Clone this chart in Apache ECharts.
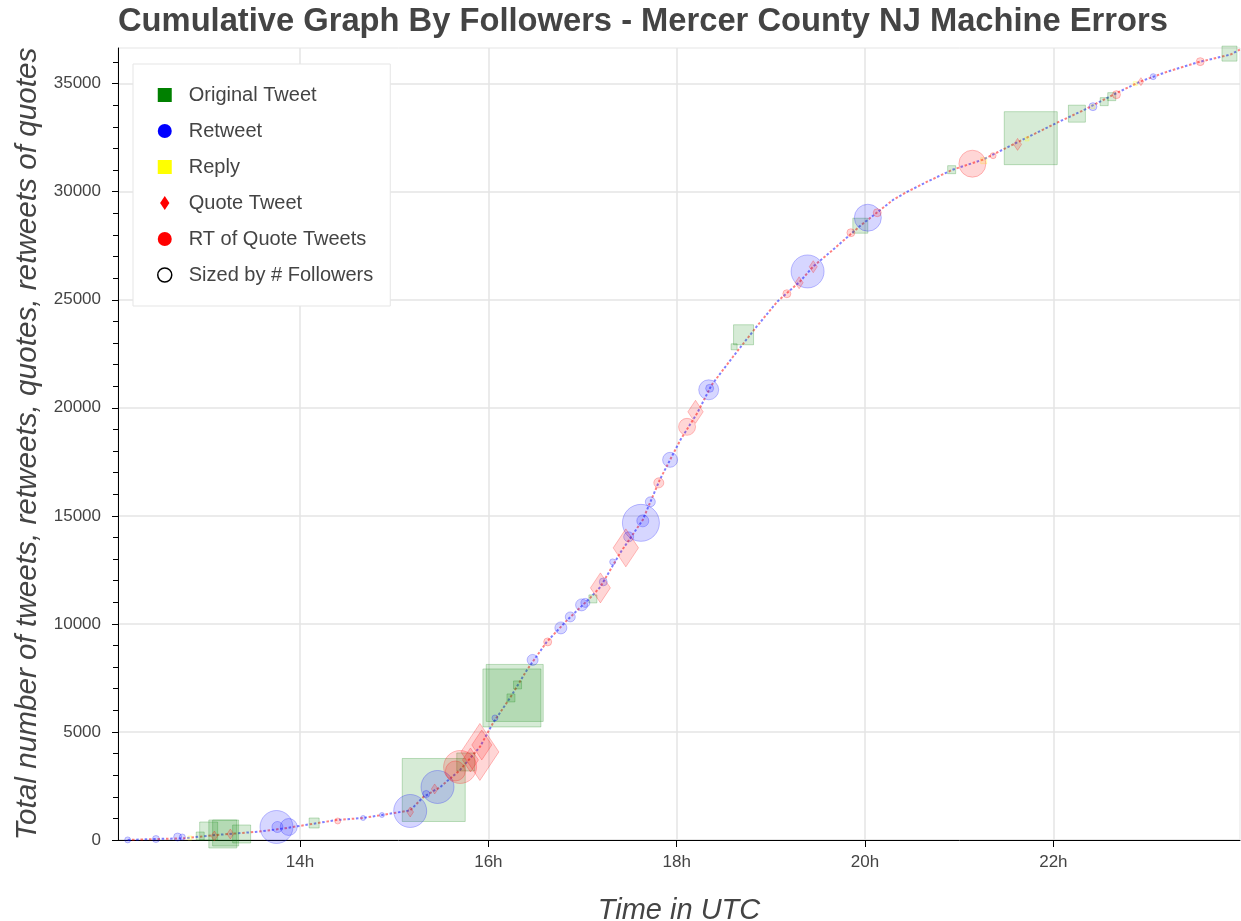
<!DOCTYPE html>
<html>
<head>
<meta charset="utf-8">
<title>Cumulative Graph By Followers</title>
<script src="https://cdn.jsdelivr.net/npm/echarts@6/dist/echarts.min.js"></script>
<style>
  html, body { margin: 0; padding: 0; background: #fff; overflow: hidden; }
  #chart { width: 1241px; height: 921px; }
</style>
</head>
<body>
<div id="chart"></div>
<script>
// ---- data: cumulative curve (hour UTC, running total) ----
var curveHours  = [12.17, 12.47, 12.77, 13.10, 13.55, 13.84, 14.05, 14.39, 14.67, 14.87, 15.17, 15.31, 15.49, 15.70,
                   15.91, 16.05, 16.23, 16.41, 16.62, 16.84, 17.08, 17.19, 17.40, 17.64, 17.82, 18.04, 18.22, 18.37,
                   18.60, 18.85, 19.07, 19.31, 19.45, 19.66, 19.95, 20.30, 20.45, 20.66, 20.93, 21.25, 21.61, 22.04,
                   22.31, 22.68, 22.92, 23.21, 23.56, 23.88, 23.98];
var curveCounts = [5, 46, 79, 230, 384, 542, 690, 926, 1019, 1157, 1370, 1991, 2454, 3241,
                   4306, 5417, 6574, 7870, 9167, 10190, 11200, 11713, 13287, 14815, 16667, 18519, 19769, 21050,
                   22375, 23764, 24921, 25847, 26542, 27315, 28426, 29630, 30000, 30463, 31019, 31481, 32268, 33194,
                   33750, 34583, 35093, 35556, 36019, 36343, 36574];

// ---- data: tweets by type [hour, running total, followers (k)] ----
var originalTweets = [
  [12.94, 185, 24], [13.03, 417, 54], [13.18, 278, 84], [13.21, 324, 78], [13.38, 278, 54],
  [14.15, 787, 30], [15.42, 2315, 189], [15.76, 3611, 54], [16.25, 6574, 174], [16.28, 6806, 171],
  [16.24, 6574, 24], [16.31, 7176, 24], [17.11, 11157, 24], [18.61, 22824, 18], [18.71, 23380, 60],
  [19.95, 28426, 45], [20.92, 31019, 24], [21.76, 32477, 159], [22.25, 33611, 51], [22.54, 34167, 24],
  [22.62, 34398, 24], [23.87, 36389, 45]
];
var retweets = [
  [12.17, 5, 18], [12.47, 46, 21], [12.70, 139, 24], [12.75, 139, 18], [13.75, 602, 99],
  [13.88, 602, 51], [13.76, 602, 33], [14.67, 1019, 15], [14.87, 1157, 15], [15.17, 1343, 99],
  [15.34, 2130, 21], [15.46, 2454, 99], [16.07, 5648, 18], [16.47, 8333, 33], [16.77, 9815, 36],
  [16.87, 10324, 30], [16.99, 10880, 36], [17.03, 10972, 27], [17.22, 11944, 24], [17.32, 12870, 18],
  [17.49, 14028, 30], [17.62, 14676, 111], [17.64, 14769, 36], [17.72, 15648, 30], [17.93, 17593, 45],
  [18.34, 20833, 60], [18.35, 20900, 24], [19.39, 26310, 99], [20.03, 28796, 81], [22.42, 33935, 24],
  [23.06, 35324, 18]
];
var replies = [
  [12.83, 93, 12], [21.26, 31435, 18], [21.72, 32440, 12], [22.42, 33935, 12], [22.87, 35000, 12]
];
var quoteTweets = [
  [13.09, 185, 30], [13.26, 278, 30], [15.17, 1296, 30], [15.43, 2361, 30], [15.81, 3704, 72],
  [15.91, 4074, 171], [15.93, 4398, 90], [17.19, 11667, 90], [17.46, 13519, 114], [18.20, 19815, 69],
  [19.30, 25787, 36], [19.45, 26528, 36], [21.62, 32190, 36], [22.93, 35093, 24]
];
var rtOfQuotes = [
  [14.40, 880, 18], [15.65, 3194, 60], [15.70, 3380, 99], [16.63, 9167, 24], [17.81, 16528, 30],
  [18.11, 19120, 51], [19.17, 25278, 24], [19.85, 28102, 24], [20.13, 29028, 24], [21.14, 31296, 81],
  [21.36, 31667, 18], [22.67, 34491, 24], [23.56, 36019, 24]
];

// ---- tick labels ----
var hourTicks  = [14, 16, 18, 20, 22];
var countTicks = [0, 5000, 10000, 15000, 20000, 25000, 30000, 35000];
var minorCountTicks = [];
for (var t = 0; t <= 36000; t += 1000) minorCountTicks.push(t);

var FONT = "'Liberation Sans', Arial, Helvetica, sans-serif";
var TEXT = '#444444';
var DIAMOND = 'path://M2,0L4,3L2,6L0,3Z';
var SQUARE  = 'path://M0,0L1,0L1,1L0,1Z';

var curve = curveHours.map(function (h, i) { return [h, curveCounts[i]]; });

function sizeByFollowers(d) { return Math.max(4, d[2] / 3); }

function scatterSeries(name, data, symbol, rgb) {
  return {
    name: name,
    type: 'scatter',
    data: data,
    symbol: symbol,
    symbolKeepAspect: true,
    symbolSize: sizeByFollowers,
    itemStyle: { color: 'rgba(' + rgb + ',0.2)', borderColor: 'rgba(' + rgb + ',0.3)', borderWidth: 1 },
    emphasis: { disabled: true },
    clip: true,
    z: 3
  };
}

var chart = echarts.init(document.getElementById('chart'));

chart.setOption({
  animation: false,
  title: {
    text: 'Cumulative Graph By Followers - Mercer County NJ Machine Errors',
    left: 118,
    top: 5,
    padding: 0,
    textStyle: { fontSize: 32.7, fontWeight: 'bold', color: TEXT, fontFamily: FONT }
  },
  legend: {
    orient: 'vertical',
    left: 133,
    top: 64,
    z: 10,
    selectedMode: false,
    itemWidth: 38,
    itemHeight: 14,
    itemGap: 16,
    padding: [21, 17, 21, 24],
    backgroundColor: '#ffffff',
    borderColor: '#e5e5e5',
    borderWidth: 1,
    textStyle: { fontSize: 20, color: TEXT, fontFamily: FONT },
    data: [
      { name: 'Original Tweet', icon: SQUARE, itemStyle: { color: '#008000', borderWidth: 0, opacity: 1 } },
      { name: 'Retweet', icon: 'circle', itemStyle: { color: '#0000ff', borderWidth: 0, opacity: 1 } },
      { name: 'Reply', icon: SQUARE, itemStyle: { color: '#ffff00', borderWidth: 0, opacity: 1 } },
      { name: 'Quote Tweet', icon: DIAMOND, itemStyle: { color: '#ff0000', borderWidth: 0, opacity: 1 } },
      { name: 'RT of Quote Tweets', icon: 'circle', itemStyle: { color: '#ff0000', borderWidth: 0, opacity: 1 } },
      { name: 'Sized by # Followers', icon: 'circle', itemStyle: { color: '#ffffff', borderColor: '#000000', borderWidth: 1.5, opacity: 1 } }
    ]
  },
  grid: {
    left: 118, right: 1, top: 48, bottom: 81,
    outerBoundsMode: 'none',
    show: true, borderColor: '#e5e5e5', borderWidth: 1
  },
  xAxis: {
    type: 'value',
    min: 12.067,
    max: 23.982,
    name: 'Time in UTC',
    nameLocation: 'middle',
    nameGap: 56,
    nameTextStyle: { fontSize: 29, fontStyle: 'italic', color: TEXT, fontFamily: FONT },
    axisLine: { onZero: false, lineStyle: { color: '#000', width: 1 } },
    axisTick: { customValues: hourTicks, length: 7, lineStyle: { color: '#000' } },
    axisLabel: {
      customValues: hourTicks,
      fontSize: 17, color: TEXT, fontFamily: FONT, margin: 14,
      formatter: function (v) { return v + 'h'; }
    },
    splitLine: { lineStyle: { color: '#e5e5e5', width: 1.5 } }
  },
  yAxis: [
    {
      type: 'value',
      min: 0,
      max: 36650,
      interval: 5000,
      name: 'Total number of tweets, retweets, quotes, retweets of quotes',
      nameLocation: 'middle',
      nameGap: 59,
      nameRotate: 90,
      nameTextStyle: { fontSize: 29.7, fontStyle: 'italic', color: TEXT, fontFamily: FONT },
      axisLine: { show: true, onZero: false, lineStyle: { color: '#000', width: 1 } },
      axisTick: { show: true, customValues: countTicks, length: 6, lineStyle: { color: '#000' } },
      axisLabel: {
        customValues: countTicks,
        fontSize: 17, color: TEXT, fontFamily: FONT, margin: 17,
        formatter: function (v) { return String(v); }
      },
      splitLine: { lineStyle: { color: '#e5e5e5', width: 1.5 } }
    },
    {
      // minor ticks only
      type: 'value',
      min: 0,
      max: 36650,
      position: 'left',
      axisLine: { show: false },
      axisTick: { show: true, customValues: minorCountTicks, length: 5, lineStyle: { color: '#000' } },
      axisLabel: { show: false },
      splitLine: { show: false }
    }
  ],
  series: [
    {
      type: 'line', data: curve, symbol: 'none', silent: true, z: 2,
      lineStyle: { color: 'rgba(0,0,255,0.5)', width: 2, type: [2.5, 6] }
    },
    {
      type: 'line', data: curve, symbol: 'none', silent: true, z: 2,
      lineStyle: { color: 'rgba(255,0,0,0.5)', width: 2, type: [2.5, 6], dashOffset: 4.2 }
    },
    scatterSeries('Original Tweet', originalTweets, 'rect', '0,128,0'),
    scatterSeries('Retweet', retweets, 'circle', '0,0,255'),
    scatterSeries('Reply', replies, 'rect', '255,255,0'),
    scatterSeries('Quote Tweet', quoteTweets, DIAMOND, '255,0,0'),
    scatterSeries('RT of Quote Tweets', rtOfQuotes, 'circle', '255,0,0'),
    { name: 'Sized by # Followers', type: 'scatter', data: [], itemStyle: { color: '#fff', borderColor: '#000', borderWidth: 1.5 } }
  ]
});
</script>
</body>
</html>
